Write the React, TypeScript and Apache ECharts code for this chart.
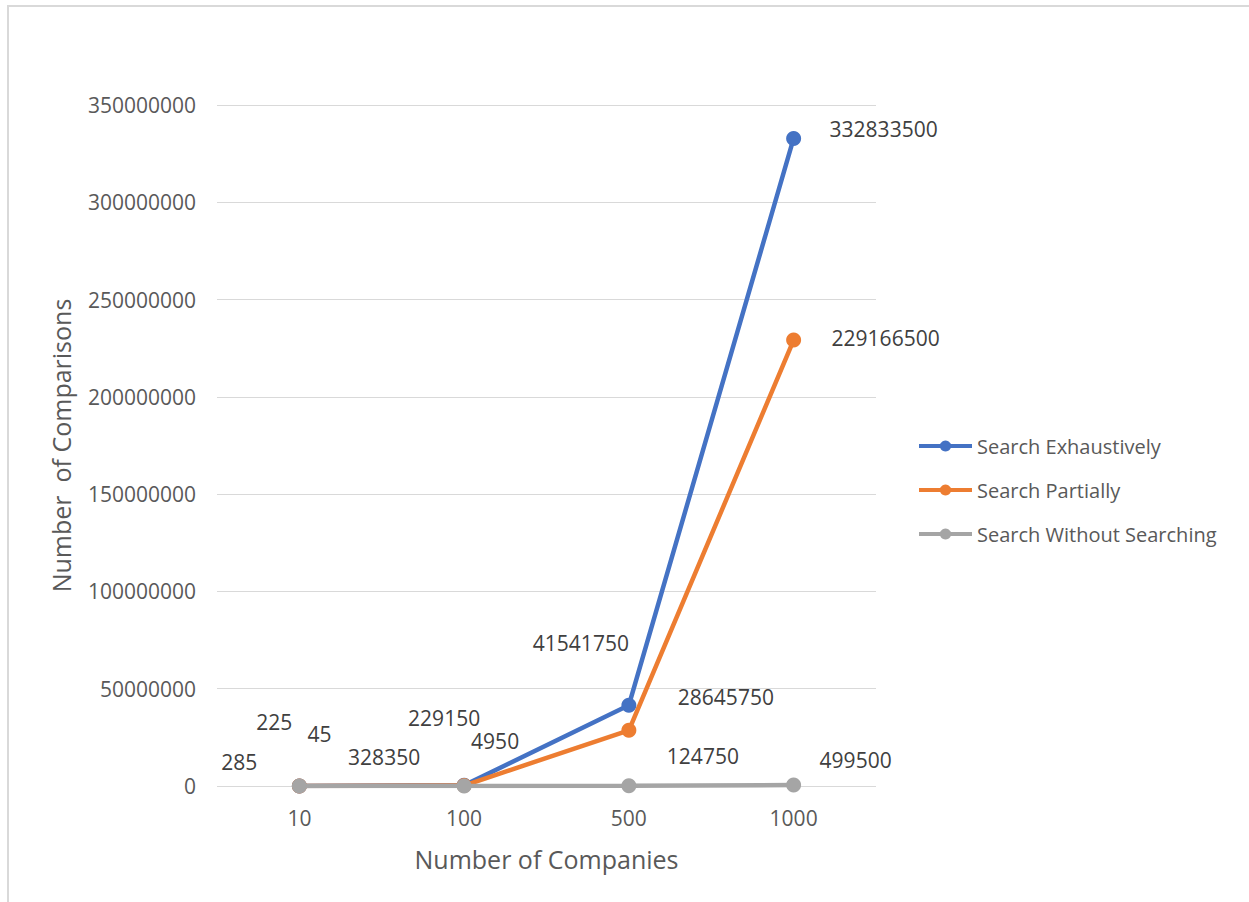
import React, { useEffect, useRef } from "react";
import * as echarts from "echarts";

const categories = ["10", "100", "500", "1000"];
const exhaustive = [285, 328350, 41541750, 332833500];
const partial = [225, 229150, 28645750, 229166500];
const without = [45, 4950, 124750, 499500];
const seriesNames = ["Search Exhaustively", "Search Partially", "Search Without Searching"];
const colors = ["#4472C4", "#ED7D31", "#A5A5A5"];

// label offsets (pixels) relative to each point, as placed in the original
const exOffsets = [[-60, -24], [-80, -28], [-48, -62], [90, -9]];
const paOffsets = [[-25, -64], [-20, -68], [97, -33], [92, -2]];
const woOffsets = [[20, -52], [31, -45], [74, -30], [62, -25]];

const FONT = "'Open Sans', 'Noto Sans', sans-serif";

function makeSeries(name: string, values: number[], offsets: number[][], color: string, z: number) {
  return {
    name,
    type: "line",
    data: values.map((v, i) => ({
      value: v,
      label: { offset: offsets[i] },
    })),
    z,
    symbol: "circle",
    symbolSize: 15,
    lineStyle: { width: 4.5, color },
    itemStyle: { color },
    label: {
      show: true,
      position: "inside",
      align: "center",
      verticalAlign: "middle",
      color: "#404040",
      fontFamily: FONT,
      fontSize: 21,
      formatter: (p: any) => String(p.value),
    },
  };
}

export default function App() {
  const ref = useRef<HTMLDivElement>(null);
  useEffect(() => {
    if (!ref.current) return;
    const chart = echarts.init(ref.current, null, { renderer: "svg" });
    chart.setOption({
      animation: false,
      backgroundColor: "#ffffff",
      textStyle: { fontFamily: FONT },
      grid: { left: 217, right: 373, top: 105, bottom: 116, containLabel: false },
      legend: {
        orient: "vertical",
        left: 912,
        top: 431,
        itemGap: 24,
        itemWidth: 53,
        itemHeight: 14,
        lineStyle: { width: 4 },
        textStyle: { color: "#595959", fontSize: 20, fontFamily: FONT },
        data: seriesNames,
      },
      xAxis: {
        type: "category",
        data: categories,
        boundaryGap: true,
        name: "Number of Companies",
        nameLocation: "middle",
        nameGap: 60,
        nameTextStyle: { color: "#595959", fontSize: 25, fontFamily: FONT },
        axisLine: { show: false },
        axisTick: { show: false },
        axisLabel: { color: "#595959", fontSize: 21, margin: 21, fontFamily: FONT },
      },
      yAxis: {
        type: "value",
        min: 0,
        max: 350000000,
        interval: 50000000,
        name: "Number  of Comparisons",
        nameLocation: "middle",
        nameGap: 144,
        nameTextStyle: { color: "#595959", fontSize: 25, fontFamily: FONT },
        axisLine: { show: false },
        axisTick: { show: false },
        splitLine: { lineStyle: { color: "#d9d9d9", width: 1 } },
        axisLabel: {
          color: "#595959",
          fontSize: 21,
          margin: 21,
          fontFamily: FONT,
          formatter: (v: number) => String(v),
        },
      },
      series: [
        makeSeries(seriesNames[0], exhaustive, exOffsets, colors[0], 3),
        makeSeries(seriesNames[1], partial, paOffsets, colors[1], 4),
        makeSeries(seriesNames[2], without, woOffsets, colors[2], 5),
      ],
      graphic: [
        { type: "line", shape: { x1: 7, y1: 6, x2: 1249, y2: 6 }, style: { stroke: "#d9d9d9", lineWidth: 2 } },
        { type: "line", shape: { x1: 8, y1: 6, x2: 8, y2: 902 }, style: { stroke: "#d9d9d9", lineWidth: 2 } },
      ],
    });
    return () => chart.dispose();
  }, []);
  return (
    <div
      ref={ref}
      style={{ position: "absolute", left: 0, top: 0, width: 1249, height: 902 }}
    />
  );
}
